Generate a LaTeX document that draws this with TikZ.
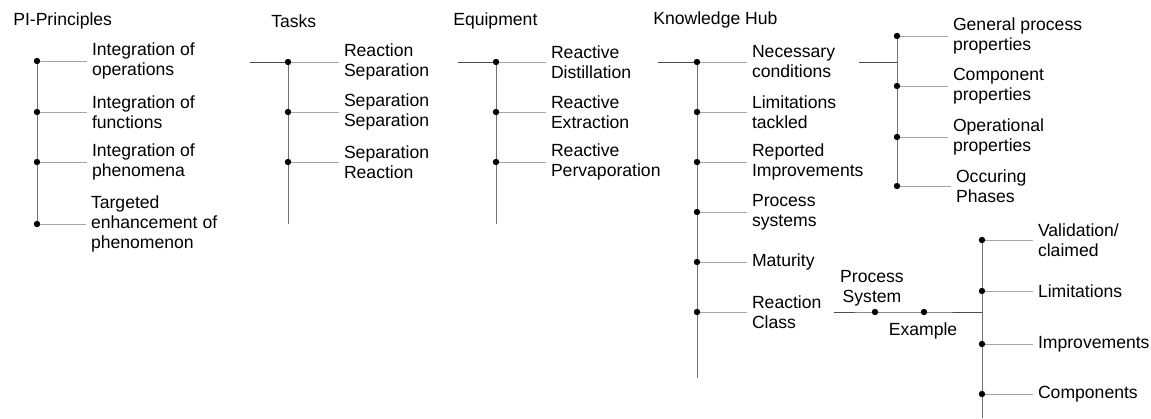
\documentclass[tikz,border=0pt]{standalone}
\usepackage{fontspec}
\setmainfont{Liberation Sans}
\usetikzlibrary{positioning}
\pgfdeclarelayer{background}
\pgfsetlayers{background,main}

\begin{document}
\begin{tikzpicture}[x=0.75pt,y=-0.75pt,
    head/.style={anchor=west, inner sep=0pt, font=\fontsize{13.2}{15}\selectfont},
    lbl/.style={anchor=west, align=left, inner sep=0pt, outer xsep=3.75pt,
      font=\fontsize{13.2}{15}\selectfont},
    stem/.style={draw=black!55, line width=0.75pt},
    twig/.style={draw=black!35, line width=0.75pt},
    feed/.style={draw=black!70, line width=0.75pt}]
  \def\radius{2.4pt}
  \useasboundingbox (0,0) rectangle (1151,418);

  % PI-Principles
  \node[head] (pihead) at (13,21) {PI-Principles};
  \fill (37,61) coordinate(p1) circle (\radius);
  \fill (37,112) coordinate(p2) circle (\radius);
  \fill (37,162) coordinate(p3) circle (\radius);
  \fill (37,224) coordinate(p4) circle (\radius);
  \node[lbl] (p1t) at (87,61) {Integration of\\operations};
  \node[lbl] (p2t) at (87,112) {Integration of\\functions};
  \node[lbl] (p3t) at (87,162) {Integration of\\phenomena};
  \node[lbl] (p4t) at (86,224) {Targeted\\enhancement of\\phenomenon};

  % Tasks
  \node[head] (taskhead) at (271,21) {Tasks};
  \coordinate (tin) at (250,62);
  \coordinate (tend) at (288,224);
  \fill (288,62) coordinate(t1) circle (\radius);
  \fill (288,112) coordinate(t2) circle (\radius);
  \fill (288,162) coordinate(t3) circle (\radius);
  \node[lbl] (t1t) at (339,62) {Reaction\\Separation};
  \node[lbl] (t2t) at (339,112) {Separation\\Separation};
  \node[lbl] (t3t) at (339,162) {Separation\\Reaction};

  % Equipment
  \node[head] (eqhead) at (453,21) {Equipment};
  \coordinate (qin) at (458,62);
  \coordinate (qend) at (496,224);
  \fill (496,62) coordinate(q1) circle (\radius);
  \fill (496,112) coordinate(q2) circle (\radius);
  \fill (496,162) coordinate(q3) circle (\radius);
  \node[lbl] (q1t) at (546,62) {Reactive\\Distillation};
  \node[lbl] (q2t) at (546,112) {Reactive\\Extraction};
  \node[lbl] (q3t) at (546,162) {Reactive\\Pervaporation};

  % Knowledge Hub
  \node[head] (khead) at (653,20) {Knowledge Hub};
  \coordinate (kin) at (658,62);
  \coordinate (kend) at (697,378);
  \fill (697,62) coordinate(k1) circle (\radius);
  \fill (697,112) coordinate(k2) circle (\radius);
  \fill (697,162) coordinate(k3) circle (\radius);
  \fill (697,212) coordinate(k4) circle (\radius);
  \fill (697,262) coordinate(k5) circle (\radius);
  \fill (697,312) coordinate(k6) circle (\radius);
  \node[lbl] (k1t) at (747,62) {Necessary\\conditions};
  \node[lbl] (k2t) at (747,112) {Limitations\\tackled};
  \node[lbl] (k3t) at (747,162) {Reported\\Improvements};
  \node[lbl] (k4t) at (747,212) {Process\\systems};
  \node[lbl] (k5t) at (747,262) {Maturity};
  \node[lbl] (k6t) at (747,312) {Reaction\\Class};

  % necessary conditions
  \coordinate (nin) at (859,62);
  \coordinate (njoin) at (897,62);
  \fill (897,36) coordinate(n1) circle (\radius);
  \fill (897,86) coordinate(n2) circle (\radius);
  \fill (897,137) coordinate(n3) circle (\radius);
  \fill (897,186) coordinate(n4) circle (\radius);
  \node[lbl] (n1t) at (948,36) {General process\\properties};
  \node[lbl] (n2t) at (948,86) {Component\\properties};
  \node[lbl] (n3t) at (948,137) {Operational\\properties};
  \node[lbl] (n4t) at (951,186) {Occuring\\Phases};

  % reaction class
  \coordinate (rin) at (834,312);
  \coordinate (rjoin) at (982,312);
  \fill (875,312) coordinate(e1) circle (\radius);
  \fill (924,312) coordinate(e2) circle (\radius);
  \node[head, anchor=center, align=center] (e1t) at (872,288) {Process\\System};
  \node[head, anchor=center] (e2t) at (923,331) {Example};
  \coordinate (vend) at (982,418);
  \fill (982,240) coordinate(v1) circle (\radius);
  \fill (982,291) coordinate(v2) circle (\radius);
  \fill (982,344) coordinate(v3) circle (\radius);
  \fill (982,394) coordinate(v4) circle (\radius);
  \node[lbl] (v1t) at (1033,240) {Validation/\\claimed};
  \node[lbl] (v2t) at (1033,291) {Limitations};
  \node[lbl] (v3t) at (1033,344) {Improvements};
  \node[lbl] (v4t) at (1033,394) {Components};

  \begin{pgfonlayer}{background}
    \draw[stem] (p1)--(p4);
    \draw[twig] (p1)--(p1t); \draw[twig] (p2)--(p2t);
    \draw[twig] (p3)--(p3t); \draw[twig] (p4)--(p4t);

    \draw[feed] (tin)--(t1);
    \draw[stem] (t1)--(tend);
    \draw[twig] (t1)--(t1t); \draw[twig] (t2)--(t2t); \draw[twig] (t3)--(t3t);

    \draw[feed] (qin)--(q1);
    \draw[stem] (q1)--(qend);
    \draw[twig] (q1)--(q1t); \draw[twig] (q2)--(q2t); \draw[twig] (q3)--(q3t);

    \draw[feed] (kin)--(k1);
    \draw[stem] (k1)--(kend);
    \draw[twig] (k1)--(k1t); \draw[twig] (k2)--(k2t); \draw[twig] (k3)--(k3t);
    \draw[twig] (k4)--(k4t); \draw[twig] (k5)--(k5t); \draw[twig] (k6)--(k6t);

    \draw[feed] (nin)--(njoin);
    \draw[stem] (n1)--(n4);
    \draw[twig] (n1)--(n1t); \draw[twig] (n2)--(n2t);
    \draw[twig] (n3)--(n3t); \draw[twig] (n4)--(n4t);

    \draw[feed] (rin)--(e1)--(e2)--(rjoin);
    \draw[stem] (v1)--(vend);
    \draw[twig] (v1)--(v1t); \draw[twig] (v2)--(v2t);
    \draw[twig] (v3)--(v3t); \draw[twig] (v4)--(v4t);
  \end{pgfonlayer}
\end{tikzpicture}
\end{document}
